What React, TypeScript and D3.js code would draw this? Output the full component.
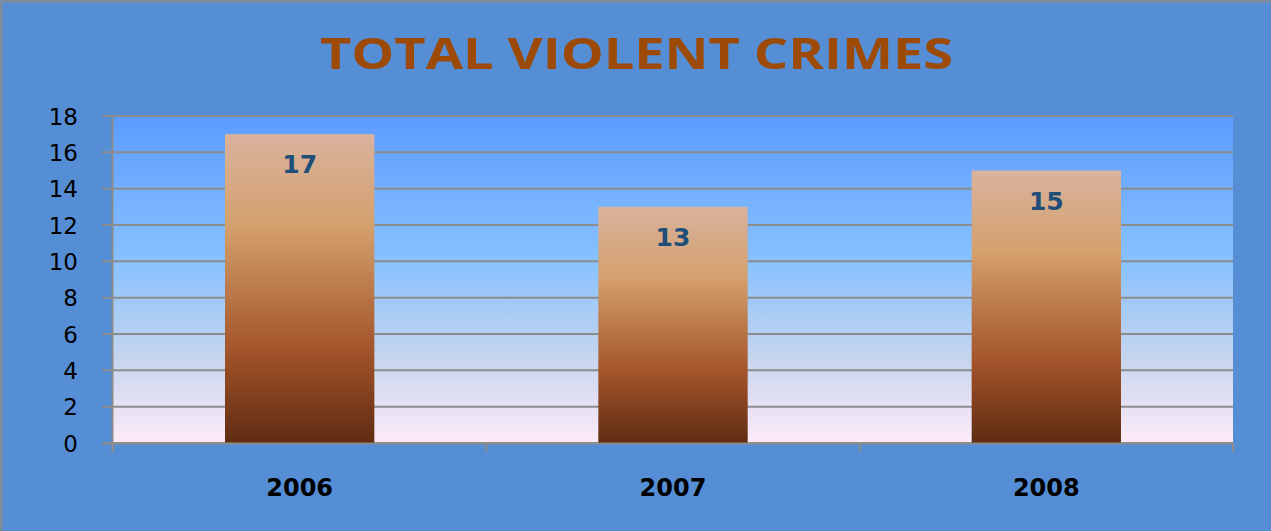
import React from "react";
import * as d3 from "d3";

const title = "TOTAL VIOLENT CRIMES";
const categories = ["2006", "2007", "2008"];
const values = [17, 13, 15];
const yTicks = [0, 2, 4, 6, 8, 10, 12, 14, 16, 18];

const W = 1271;
const H = 531;
const plot = { left: 113, right: 1233, top: 116, bottom: 443 };

export default function App() {
  const x = d3
    .scaleBand<string>()
    .domain(categories)
    .range([plot.left, plot.right])
    .paddingInner(0.6)
    .paddingOuter(0.3);
  const outer = d3.scaleBand<string>().domain(categories).range([plot.left, plot.right]);
  const y = d3.scaleLinear().domain([0, 18]).range([plot.bottom, plot.top]);
  const grid = "#8c8c8c";
  const boundaries = [...categories.map((c) => outer(c) as number), plot.right];

  return (
    <svg
      width={W}
      height={H}
      style={{ position: "absolute", left: 0, top: 0, display: "block" }}
    >
      <defs>
        <linearGradient id="plotBg" x1="0" y1="0" x2="0" y2="1">
          <stop offset="0%" stopColor="#5c9cff" />
          <stop offset="45%" stopColor="#89c2fe" />
          <stop offset="75%" stopColor="#c8d6ee" />
          <stop offset="100%" stopColor="#fdebf8" />
        </linearGradient>
        <linearGradient id="barGrad" x1="0" y1="0" x2="0" y2="1">
          <stop offset="0%" stopColor="#d9b39d" />
          <stop offset="30%" stopColor="#d4a06d" />
          <stop offset="70%" stopColor="#a3542a" />
          <stop offset="100%" stopColor="#5f2c12" />
        </linearGradient>
      </defs>
      <rect x={0} y={0} width={W} height={H} fill="#558ed5" />
      <rect x={1.5} y={1.5} width={W + 5} height={H + 5} fill="none" stroke="#8c8c8c" strokeWidth={2} />
      <text
        x={636.5}
        y={69}
        textAnchor="middle"
        fontFamily="'Open Sans', sans-serif"
        fontWeight="bold"
        fontSize={43}
        fill="#9c4a06"
        textLength={633}
        lengthAdjust="spacingAndGlyphs"
      >
        {title}
      </text>
      <rect
        x={plot.left}
        y={plot.top}
        width={plot.right - plot.left}
        height={plot.bottom - plot.top}
        fill="url(#plotBg)"
      />
      {yTicks.map((t) => (
        <g key={t}>
          <line x1={102} x2={plot.right} y1={y(t)} y2={y(t)} stroke={grid} strokeWidth={2} />
          <text
            x={78}
            y={y(t) + 8.5}
            textAnchor="end"
            fontFamily="'DejaVu Sans', sans-serif"
            fontSize={23}
            fill="#000"
          >
            {t}
          </text>
        </g>
      ))}
      {categories.map((c, i) => {
        const bx = x(c) as number;
        const by = y(values[i]);
        return (
          <g key={c}>
            <rect
              x={bx}
              y={by}
              width={x.bandwidth()}
              height={y(0) - by}
              fill="url(#barGrad)"
            />
            <text
              x={bx + x.bandwidth() / 2}
              y={by + 39}
              textAnchor="middle"
              fontFamily="'DejaVu Sans', sans-serif"
              fontWeight="bold"
              fontSize={25}
              fill="#1f4e79"
            >
              {values[i]}
            </text>
            <text
              x={bx + x.bandwidth() / 2}
              y={496}
              textAnchor="middle"
              fontFamily="'DejaVu Sans', sans-serif"
              fontWeight="bold"
              fontSize={24}
              fill="#000"
            >
              {c}
            </text>
          </g>
        );
      })}
      <line x1={plot.left - 0.5} x2={plot.left - 0.5} y1={plot.top} y2={452} stroke={grid} strokeWidth={2} />
      <line x1={102} x2={plot.right} y1={plot.bottom + 0.5} y2={plot.bottom + 0.5} stroke={grid} strokeWidth={2} />
      {boundaries.map((b, i) => (
        <line key={i} x1={b} x2={b} y1={plot.bottom} y2={452} stroke={grid} strokeWidth={2} />
      ))}
    </svg>
  );
}
